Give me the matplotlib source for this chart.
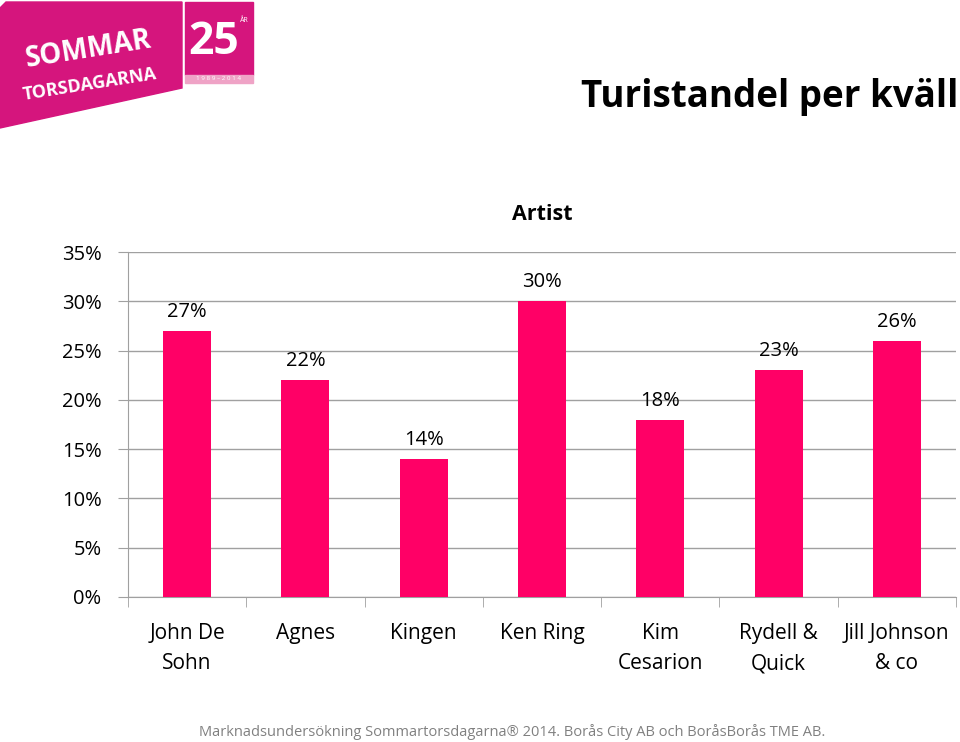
import matplotlib.pyplot as plt
from matplotlib.patches import Polygon, Rectangle
import numpy as np

plt.rcParams['font.family'] = ['Open Sans', 'DejaVu Sans']

artists = ['John De\nSohn', 'Agnes', 'Kingen', 'Ken Ring', 'Kim\nCesarion', 'Rydell &\nQuick', 'Jill Johnson\n& co']
share = [0.27, 0.22, 0.14, 0.30, 0.18, 0.23, 0.26]
yticks = [0, 0.05, 0.10, 0.15, 0.20, 0.25, 0.30, 0.35]

W, H = 960, 742
fig = plt.figure(figsize=(W / 100, H / 100), dpi=100)
ax = fig.add_axes([128 / W, 1 - 597 / H, (956 - 128) / W, (597 - 252) / H])

x = np.arange(len(artists))
ax.bar(x, share, width=0.405, color='#FF0066', zorder=3)
for xi, v in zip(x, share):
    ax.text(xi, v + 0.009, f'{v*100:.0f}%', ha='center', va='bottom', fontsize=14.5)

ax.set_xlim(-0.5, len(artists) - 0.5)
ax.set_ylim(0, 0.35)
ax.set_yticks(yticks)
ax.set_yticklabels([f'{t*100:.0f}%' for t in yticks], fontsize=14.5)
ax.yaxis.grid(True, color='#A0A0A0', linewidth=1)
ax.set_axisbelow(True)
ax.set_xticks(x)
ax.set_xticklabels(artists, fontsize=15, linespacing=1.55)
ax.set_xticks(np.arange(len(artists) + 1) - 0.5, minor=True)
ax.tick_params(axis='x', which='major', length=0, pad=19)
ax.tick_params(axis='x', which='minor', length=7, color='#A0A0A0')
ax.tick_params(axis='y', length=7, color='#A0A0A0', pad=12)
for s in ['top', 'right']:
    ax.spines[s].set_visible(False)
for s in ['left', 'bottom']:
    ax.spines[s].set_color('#A0A0A0')
ax.set_title('Artist', fontsize=15.5, fontweight='bold', pad=23)

# header
fig.text(958 / W, 1 - 97 / H, 'Turistandel per kväll', ha='right', va='center',
         fontsize=26.5, fontweight='bold')

# logo
def px(xp, yp):
    return (xp / W, 1 - yp / H)

pink = '#D5157D'
fig.patches.append(Polygon([px(0, 8), px(6, 2), px(182, 2), px(182, 88), px(0, 128)],
                           closed=True, color=pink, transform=fig.transFigure))
fig.patches.append(Rectangle(px(185, 75), 68 / W, 73 / H, color=pink, transform=fig.transFigure))
fig.patches.append(Rectangle(px(185, 83), 68 / W, 8 / H, color='#EFA3C6', transform=fig.transFigure))
fig.text(*px(88, 50), 'SOMMAR', color='white', fontsize=20, fontweight='bold',
         ha='center', va='center', rotation=9)
fig.text(*px(90, 84), 'TORSDAGARNA', color='white', fontsize=13, fontweight='bold',
         ha='center', va='center', rotation=9)
fig.text(*px(214, 42), '25', color='white', fontsize=32, fontweight='bold', ha='center', va='center')
fig.text(*px(244, 20), 'ÅR', color='white', fontsize=5, ha='center', va='center')
fig.text(*px(219, 79), '1 9 8 9 – 2 0 1 4', color='white', fontsize=4.5, ha='center', va='center')

fig.text(512 / W, 1 - 732 / H,
         'Marknadsundersökning Sommartorsdagarna® 2014. Borås City AB och BoråsBorås TME AB.',
         ha='center', va='center', fontsize=10.5, color='#808080')

fig.savefig('out.png', dpi=100)
